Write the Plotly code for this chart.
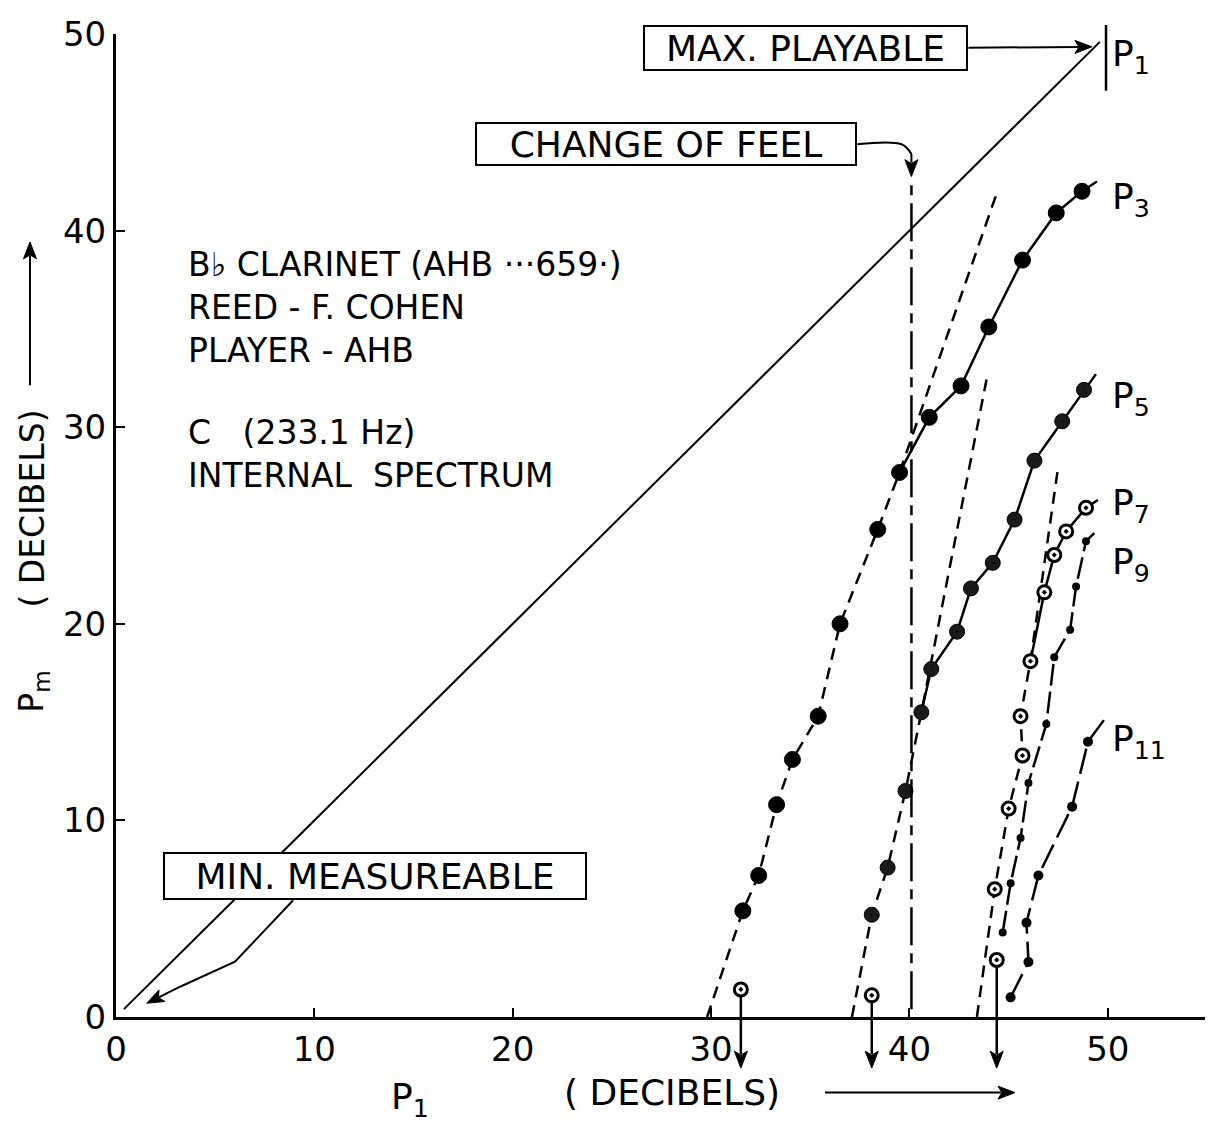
import math
import plotly.graph_objects as go

# ---------------- data ----------------
# reference line Pm = P1
p1_x = [0.4, 49.6]
p1_y = [0.4, 49.6]

# P3 (large filled dots)
p3_x = [31.6, 32.4, 33.3, 34.1, 35.4, 36.5, 38.4, 39.5, 41.0, 42.6, 44.0, 45.7, 47.4, 48.7]
p3_y = [5.4, 7.2, 10.8, 13.1, 15.3, 20.0, 24.8, 27.7, 30.5, 32.1, 35.1, 38.5, 40.9, 42.0]
p3_split = 7
p3_fit_lo = [29.8, 0.0]
p3_fit_hi = [44.4, 41.9]
p3_tail = [49.45, 42.5]
p3_start = [31.5, 1.4]

# P5
p5_x = [38.1, 38.9, 39.8, 40.6, 41.1, 42.4, 43.1, 44.2, 45.3, 46.3, 47.7, 48.8]
p5_y = [5.2, 7.6, 11.5, 15.5, 17.7, 19.6, 21.8, 23.1, 25.3, 28.3, 30.3, 31.9]
p5_split = 3
p5_fit_lo = [37.1, 0.0]
p5_fit_hi = [43.9, 32.5]
p5_tail = [49.4, 32.7]
p5_start = [38.1, 1.1]

# P7 (open circles)
p7_x = [44.3, 45.0, 45.7, 45.6, 46.1, 46.8, 47.3, 47.9, 48.9]
p7_y = [6.5, 10.6, 13.3, 15.3, 18.1, 21.6, 23.5, 24.7, 25.9]
p7_split = 4
p7_fit_lo = [43.4, 0.0]
p7_fit_hi = [47.5, 28.0]
p7_tail = [49.5, 26.3]
p7_start = [44.4, 2.9]

# P9 (small dots)
p9_x = [44.7, 45.1, 45.6, 46.0, 46.9, 47.3, 48.1, 48.4, 48.9]
p9_y = [4.3, 6.8, 9.1, 11.9, 14.9, 18.3, 19.7, 21.9, 24.2]
p9_tail = [49.5, 24.8]

# P11
p11_x = [45.1, 46.0, 45.9, 46.5, 48.2, 49.0]
p11_y = [1.0, 2.8, 4.8, 7.2, 10.7, 14.0]
p11_tail = [49.8, 15.1]

change_of_feel_x = 40.1
change_of_feel_y = [0.4, 42.7]

x_ticks = [0, 10, 20, 30, 40, 50]
y_ticks = [0, 10, 20, 30, 40, 50]
x_range = [0, 55]
y_range = [0, 50]

# ---------------- figure ----------------
# the page body has an 8 px margin, so the figure is 8 px smaller and offset
OFF = 8
W, H = 1205, 1123
ML, MR, MT, MB = 108, 6, 21, 114
PW, PH = W - ML - MR, H - MT - MB
FONT = "DejaVu Sans"
K = "black"
DASH = "12px,8px"


def pxx(px):
    """page pixel x -> paper fraction"""
    return (px - OFF - ML) / PW


def pxy(py):
    """page pixel y -> paper fraction"""
    return (H - MB - (py - OFF)) / PH


def dpx(v):
    """data x -> page pixel"""
    return OFF + ML + (v - x_range[0]) / (x_range[1] - x_range[0]) * PW


def dpy(v):
    """data y -> page pixel"""
    return OFF + H - MB - (v - y_range[0]) / (y_range[1] - y_range[0]) * PH


fig = go.Figure()


def arrow(x0, y0, x1, y1, width=2.0, head=17, half=6.5):
    """arrow from page pixel (x0, y0) to tip (x1, y1), drawn as paper shapes"""
    L = math.hypot(x1 - x0, y1 - y0)
    ux, uy = (x1 - x0) / L, (y1 - y0) / L
    bx, by = x1 - ux * head, y1 - uy * head
    fig.add_shape(type="line", xref="paper", yref="paper",
                  x0=pxx(x0), y0=pxy(y0), x1=pxx(bx + ux * 3), y1=pxy(by + uy * 3),
                  line=dict(color=K, width=width))
    pts = [(x1, y1), (bx - uy * half, by + ux * half), (bx + ux * 4, by + uy * 4),
           (bx + uy * half, by - ux * half)]
    path = "M " + " L ".join(f"{pxx(a):.5f},{pxy(b):.5f}" for a, b in pts) + " Z"
    fig.add_shape(type="path", xref="paper", yref="paper", path=path,
                  fillcolor=K, line=dict(color=K, width=1))


fig.add_trace(go.Scatter(x=p1_x, y=p1_y, mode="lines", line=dict(color=K, width=2)))


def harmonic(xs, ys, split, lo, hi, tail, start, msym, msize, mcolor, mline):
    dx = [lo[0]] + xs[:split + 1] + [hi[0]]
    dy = [lo[1]] + ys[:split + 1] + [hi[1]]
    fig.add_trace(go.Scatter(x=dx, y=dy, mode="lines",
                             line=dict(color=K, width=2.5, dash=DASH)))
    fig.add_trace(go.Scatter(x=xs[split:] + [tail[0]], y=ys[split:] + [tail[1]],
                             mode="lines", line=dict(color=K, width=2.5)))
    fig.add_trace(go.Scatter(x=xs, y=ys, mode="markers",
                             marker=dict(symbol=msym, size=msize, color=mcolor,
                                         line=dict(color=K, width=mline))))
    # stem from the threshold point down below the axis
    arrow(dpx(start[0]), dpy(start[1]) + 7, dpx(start[0]), dpy(-2.6), width=2.5)
    fig.add_trace(go.Scatter(x=[start[0]], y=[start[1]], mode="markers",
                             marker=dict(symbol="circle-dot", size=13, color="white",
                                         line=dict(color=K, width=3))))


harmonic(p3_x, p3_y, p3_split, p3_fit_lo, p3_fit_hi, p3_tail, p3_start,
         "circle", 16, K, 1)
harmonic(p5_x, p5_y, p5_split, p5_fit_lo, p5_fit_hi, p5_tail, p5_start,
         "circle-dot", 15, "#1a1a1a", 1)
harmonic(p7_x, p7_y, p7_split, p7_fit_lo, p7_fit_hi, p7_tail, p7_start,
         "circle-dot", 13, "white", 3)

fig.add_trace(go.Scatter(x=p9_x + [p9_tail[0]], y=p9_y + [p9_tail[1]], mode="lines",
                         line=dict(color=K, width=2.5, dash="22px,6px")))
fig.add_trace(go.Scatter(x=p9_x, y=p9_y, mode="markers",
                         marker=dict(symbol="circle", size=8, color=K)))
fig.add_trace(go.Scatter(x=p11_x + [p11_tail[0]], y=p11_y + [p11_tail[1]], mode="lines",
                         line=dict(color=K, width=2.5, dash="26px,8px")))
fig.add_trace(go.Scatter(x=p11_x, y=p11_y, mode="markers",
                         marker=dict(symbol="circle", size=10, color=K)))

# change-of-feel vertical line
fig.add_trace(go.Scatter(x=[change_of_feel_x, change_of_feel_x], y=change_of_feel_y,
                         mode="lines", line=dict(color=K, width=2.5, dash="38px,8px,10px,8px")))
# connector from CHANGE OF FEEL box
fig.add_trace(go.Scatter(x=[37.37, 39.6, 40.1], y=[44.39, 44.39, 43.9], mode="lines",
                         line=dict(color=K, width=2, shape="spline")))
arrow(dpx(change_of_feel_x), dpy(43.9), dpx(change_of_feel_x), dpy(42.75))
# connector from MIN. MEASUREABLE box
fig.add_trace(go.Scatter(x=[8.93, 6.0, 3.23], y=[5.94, 2.81, 1.54], mode="lines",
                         line=dict(color=K, width=2)))
arrow(dpx(3.23), dpy(1.54), dpx(1.55), dpy(0.7))
# MAX. PLAYABLE arrow
arrow(dpx(42.97), dpy(49.3), dpx(49.2), dpy(49.35))

# boxed labels
box = dict(showarrow=False, xref="x", yref="y", bgcolor="white", bordercolor=K,
           borderwidth=2, borderpad=0, xanchor="center", yanchor="middle",
           font=dict(family=FONT, size=36, color=K))
fig.add_annotation(x=34.77, y=49.29, text="MAX. PLAYABLE", width=321, height=42, **box)
fig.add_annotation(x=27.74, y=44.39, text="CHANGE OF FEEL", width=378, height=40, **box)
fig.add_annotation(x=13.06, y=7.16, text="MIN. MEASUREABLE", width=420, height=44, **box)

# descriptive text
info_a = "B♭ CLARINET (AHB ···659·)<br>REED - F. COHEN<br>PLAYER - AHB"
info_b = "C\u00a0\u00a0\u00a0(233.1 Hz)<br>INTERNAL\u00a0 SPECTRUM"
for txt, py in [(info_a, 304), (info_b, 451)]:
    fig.add_annotation(x=pxx(186), y=pxy(py), xref="paper", yref="paper", text=txt,
                       showarrow=False, xanchor="left", yanchor="middle", align="left",
                       font=dict(family=FONT, size=33, color=K))

# curve labels
lab = dict(showarrow=False, xref="paper", yref="paper", xanchor="left", yanchor="middle",
           font=dict(family=FONT, size=36, color=K))
for txt, py in [("P<sub>3</sub>", 195), ("P<sub>5</sub>", 395), ("P<sub>7</sub>", 503),
                ("P<sub>9</sub>", 562), ("P<sub>11</sub>", 740), ("P<sub>1</sub>", 52)]:
    fig.add_annotation(x=pxx(1110), y=pxy(py), text=txt, **lab)

# vertical bar next to the top P1 label
fig.add_shape(type="line", xref="paper", yref="paper", x0=pxx(1106), x1=pxx(1106),
              y0=pxy(86), y1=pxy(20), line=dict(color=K, width=2.5))

# axis titles
tfont = dict(family=FONT, size=36, color=K)
ctr = dict(xref="paper", yref="paper", showarrow=False, xanchor="center", yanchor="middle",
           font=tfont)
fig.add_annotation(x=pxx(410), y=pxy(1100), text="P<sub>1</sub>", **ctr)
fig.add_annotation(x=pxx(672), y=pxy(1093), text="( DECIBELS)", **ctr)
arrow(825, 1093, 1015, 1093)
ctr_y = dict(ctr, font=dict(family=FONT, size=33, color=K))
fig.add_annotation(x=pxx(33), y=pxy(506), text="( DECIBELS)", textangle=-90, **ctr_y)
fig.add_annotation(x=pxx(34), y=pxy(690), text="P<sub>m</sub>", textangle=-90, **ctr_y)
arrow(30, 382, 30, 238)

axis_common = dict(showgrid=False, zeroline=False, showline=True, linecolor=K, linewidth=3,
                   ticks="inside", ticklen=9, tickwidth=2, tickcolor=K,
                   tickfont=dict(family=FONT, size=34, color=K))
fig.update_xaxes(range=x_range, tickmode="array", tickvals=x_ticks,
                 ticktext=[str(v) for v in x_ticks], **axis_common)
fig.update_yaxes(range=y_range, tickmode="array", tickvals=y_ticks,
                 ticktext=[str(v) for v in y_ticks], **axis_common)

fig.update_layout(width=W, height=H, margin=dict(l=ML, r=MR, t=MT, b=MB, pad=0),
                  plot_bgcolor="white", paper_bgcolor="white", showlegend=False,
                  font=dict(family=FONT, color=K))

fig.write_html("out.html")
